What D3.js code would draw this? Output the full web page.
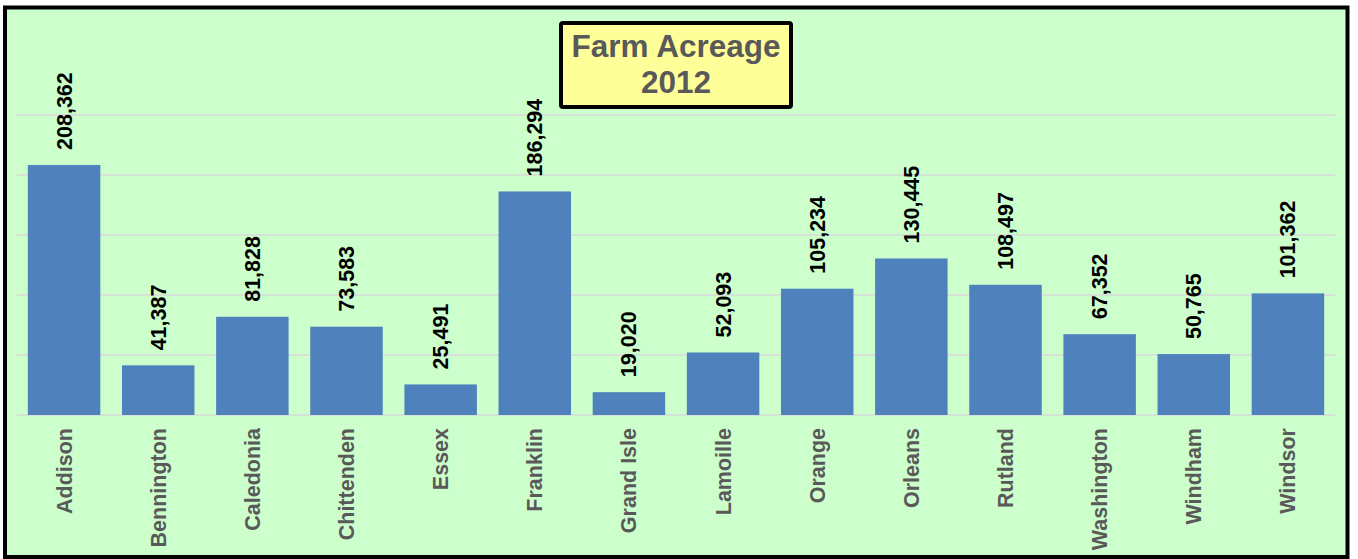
<!DOCTYPE html>
<html>
<head>
<meta charset="utf-8">
<script src="https://cdn.jsdelivr.net/npm/d3@7"></script>
<style>
  body { margin: 0; background: #fff; }
  svg { display: block; font-family: "Liberation Sans", Arial, sans-serif; }
</style>
</head>
<body>
<div id="chart"></div>
<script>
// county names and farm acreage (2012)
const counties = ["Addison", "Bennington", "Caledonia", "Chittenden", "Essex", "Franklin",
  "Grand Isle", "Lamoille", "Orange", "Orleans", "Rutland", "Washington", "Windham", "Windsor"];
const acres = [208362, 41387, 81828, 73583, 25491, 186294, 19020, 52093, 105234, 130445,
  108497, 67352, 50765, 101362];
const gridTicks = [0, 50000, 100000, 150000, 200000, 250000];
const titleLines = ["Farm Acreage", "2012"];

const W = 1358, H = 559;
const plot = { left: 17, right: 1335, top: 115, bottom: 415 };

const svg = d3.select("#chart").append("svg")
  .attr("width", W)
  .attr("height", H);

// background + outer border
svg.append("rect")
  .attr("x", 5).attr("y", 7.5)
  .attr("width", 1342.5).attr("height", 549.5)
  .attr("fill", "#ccffcc")
  .attr("stroke", "#000")
  .attr("stroke-width", 4);

const data = counties.map((c, i) => ({ county: c, value: acres[i] }));

const x = d3.scaleBand()
  .domain(counties)
  .range([plot.left, plot.right])
  .paddingInner(0.23)
  .paddingOuter(0.115);

const y = d3.scaleLinear()
  .domain([0, 250000])
  .range([plot.bottom, plot.top]);

// gridlines
svg.append("g")
  .selectAll("line")
  .data(gridTicks)
  .enter()
  .append("line")
  .attr("x1", plot.left)
  .attr("x2", plot.right)
  .attr("y1", (d) => y(d))
  .attr("y2", (d) => y(d))
  .attr("stroke", "#d9d9d9")
  .attr("stroke-width", 1.5);

// bars
svg.append("g")
  .selectAll("rect")
  .data(data)
  .enter()
  .append("rect")
  .attr("x", (d) => x(d.county))
  .attr("y", (d) => y(d.value))
  .attr("width", x.bandwidth())
  .attr("height", (d) => y(0) - y(d.value))
  .attr("fill", "#4f81bd");

// value labels
const fmt = d3.format(",");
svg.append("g")
  .selectAll("text")
  .data(data)
  .enter()
  .append("text")
  .attr("transform", (d) => `translate(${x(d.county) + x.bandwidth() / 2},${y(d.value) - 15}) rotate(-90)`)
  .attr("dy", "0.35em")
  .attr("text-anchor", "start")
  .style("font-size", "21.5px")
  .style("font-weight", "bold")
  .attr("fill", "#000")
  .text((d) => fmt(d.value));

// category labels
svg.append("g")
  .selectAll("text")
  .data(counties)
  .enter()
  .append("text")
  .attr("transform", (d) => `translate(${x(d) + x.bandwidth() / 2},428) rotate(-90)`)
  .attr("dy", "0.35em")
  .attr("text-anchor", "end")
  .style("font-size", "21.5px")
  .style("font-weight", "bold")
  .attr("fill", "#595959")
  .text((d) => d);

// title box
const title = svg.append("g");
title.append("rect")
  .attr("x", 561).attr("y", 23)
  .attr("width", 230).attr("height", 84)
  .attr("rx", 2)
  .attr("fill", "#ffff99")
  .attr("stroke", "#000")
  .attr("stroke-width", 4);

title.selectAll("text")
  .data(titleLines)
  .enter()
  .append("text")
  .attr("x", 676)
  .attr("y", (d, i) => 57 + i * 36)
  .attr("text-anchor", "middle")
  .style("font-size", "31.5px")
  .style("font-weight", "bold")
  .attr("fill", "#595959")
  .text((d) => d);
</script>
</body>
</html>
